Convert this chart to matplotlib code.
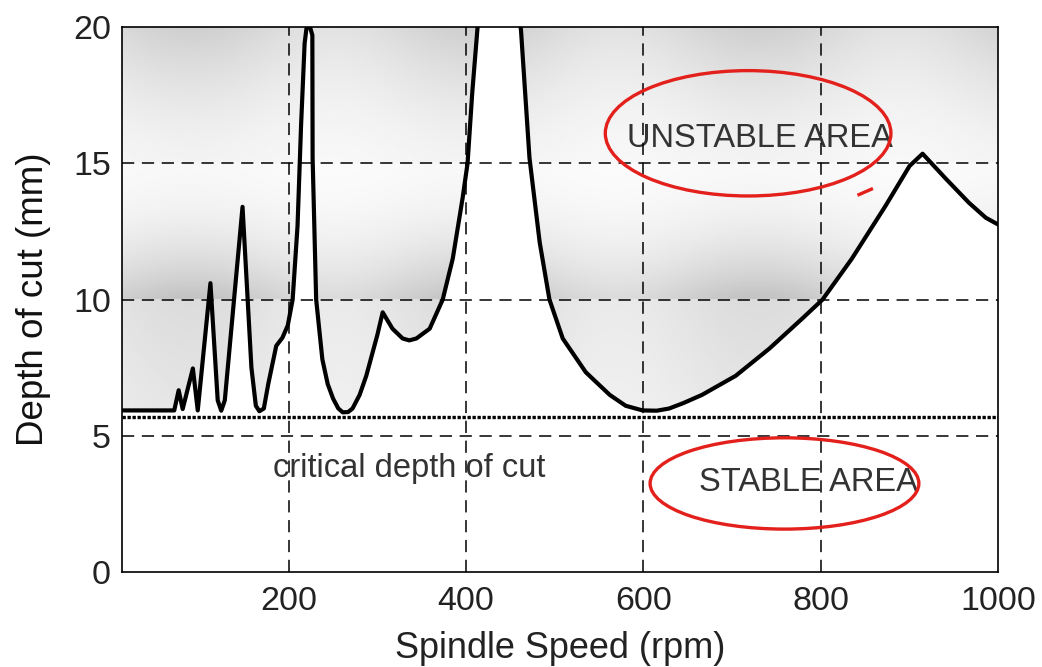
import numpy as np
import matplotlib.pyplot as plt
from matplotlib.patches import Ellipse

plt.rcParams['font.family'] = ['Liberation Sans', 'DejaVu Sans']

# stability lobe boundary (spindle speed rpm, depth of cut mm)
speed = [12, 40, 71, 76, 80.5, 92, 97.5, 111.8, 120, 124, 128, 148, 158, 163, 167,
         172, 177, 186, 193, 199, 204.5, 210, 214, 218, 221.4, 226.7, 227, 231,
         238, 244, 250, 256, 261, 267, 272, 280, 287.5, 300, 306, 317, 328.5,
         336, 344, 359, 373.7, 385, 396, 401.7, 407, 413, 437, 462, 471.5, 483,
         494, 509, 535, 562, 580, 599, 615, 629, 645, 666, 704, 742, 779, 802,
         835, 873, 900, 914.7, 941, 967, 986, 1000]
depth = [5.93, 5.93, 5.93, 6.67, 5.98, 7.47, 5.93, 10.6, 6.3, 5.92, 6.3, 13.4, 7.5, 6.1, 5.9,
         6.0, 6.9, 8.3, 8.6, 9.05, 10.0, 12.7, 16.4, 19.4, 20.3, 19.7, 15.2, 10.0,
         7.8, 6.9, 6.37, 6.0, 5.86, 5.87, 6.0, 6.5, 7.2, 8.7, 9.53, 8.93, 8.57,
         8.5, 8.57, 8.93, 10.0, 11.5, 13.7, 15.0, 17.6, 20.0, 28.0, 19.85, 15.2, 12.1,
         10.0, 8.57, 7.33, 6.5, 6.1, 5.93, 5.92, 6.0, 6.2, 6.5, 7.2, 8.2, 9.3, 10.0,
         11.5, 13.44, 14.9, 15.35, 14.43, 13.55, 13.0, 12.75]
critical_depth = 5.68

xticks = [200, 400, 600, 800, 1000]
yticks = [0, 5, 10, 15, 20]

fig = plt.figure(figsize=(10.42, 6.67), dpi=100)
ax = fig.add_axes([0.117, 0.1424, 0.841, 0.8171])
ax.set_xlim(12, 1000)
ax.set_ylim(0, 20)

# grey shading of the unstable region
gx = np.linspace(12, 1000, 400)
gy = np.linspace(0, 20, 400)
GX, GY = np.meshgrid(gx, gy)
v = np.full_like(GY, 0.88)
top = GY >= 15
t = (GY[top] - 15) / 5
v[top] = 0.95 - 0.14 * t ** 1.5
mid = (GY >= 10) & (GY < 15)
t = (15 - GY[mid]) / 5
v[mid] = 0.97 - 0.21 * t ** 2
low = GY < 10
v[low] = 0.86 + 0.04 * (10 - GY[low]) / 4
mod = 0.8 + 0.2 * np.cos(2 * np.pi * (GX - 90) / 320)
v = 1 - (1 - v) * mod
img = ax.imshow(v, extent=(12, 1000, 0, 20), origin='lower', cmap='gray',
                vmin=0, vmax=1, aspect='auto', zorder=1, interpolation='bilinear')
poly = ax.fill_between(speed, depth, 40, color='none', lw=0, zorder=0)
img.set_clip_path(poly.get_paths()[0], transform=ax.transData)

# grid
for xv in [200, 400, 600, 800]:
    ax.axvline(xv, color='black', lw=1.1, dashes=(8, 5), zorder=3)
for yv in [5, 10, 15]:
    ax.axhline(yv, color='black', lw=1.1, dashes=(8, 5), zorder=3)

ax.axhline(critical_depth, color='black', lw=2.4, dashes=(1, 0.5), zorder=3)
ax.plot(speed, depth, color='black', lw=3.0, zorder=4, solid_joinstyle='round')

ax.text(182, 3.8, 'critical depth of cut', fontsize=23.5, color='#333333',
        va='center', ha='left', zorder=2)
ax.text(581, 15.9, 'UNSTABLE AREA', fontsize=23.5, color='#333333',
        va='center', ha='left', zorder=2)
ax.text(663, 3.3, 'STABLE AREA', fontsize=23.5, color='#333333',
        va='center', ha='left', zorder=2)

# red hand-drawn marks
ax.add_patch(Ellipse((718, 16.1), 322, 4.6, fill=False, ec='#e3201b', lw=2.4,
                     zorder=5, clip_on=False))
ax.plot([843, 857], [13.85, 14.05], color='#e3201b', lw=2.4, zorder=5)
ax.add_patch(Ellipse((759, 3.25), 303, 3.35, fill=False, ec='#e3201b', lw=2.4,
                     zorder=5, clip_on=False))

ax.set_xticks(xticks)
ax.set_yticks(yticks)
ax.tick_params(length=0, labelsize=24.5, colors='#222222')
ax.tick_params(axis='x', pad=10)
ax.tick_params(axis='y', pad=8)
ax.set_xlabel('Spindle Speed (rpm)', fontsize=26, color='#222222', labelpad=10)
ax.set_ylabel('Depth of cut (mm)', fontsize=26.5, color='#111111', labelpad=16)
for s in ax.spines.values():
    s.set_linewidth(1.2)

plt.savefig('out.png', dpi=100)
